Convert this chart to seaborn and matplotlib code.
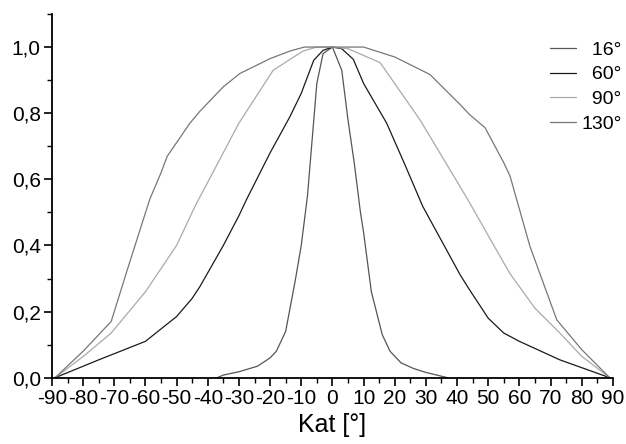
import numpy as np
import pandas as pd
import matplotlib
matplotlib.use("Agg")
import matplotlib.pyplot as plt
import seaborn as sns
from matplotlib.ticker import MultipleLocator, FuncFormatter
from matplotlib.lines import Line2D

# ---- data ----
labels = ["16°", "60°", "90°", "130°"]

ang_16 = [-37, -35, -30, -24, -20, -18, -15, -12, -10, -8, -5, -3, 0,
          3, 5, 7, 9, 10, 12.5, 16, 18.5, 22, 26, 30, 37]
val_16 = [0.0, 0.008, 0.018, 0.035, 0.06, 0.08, 0.14, 0.29, 0.40, 0.55, 0.89, 0.98, 1.0,
          0.93, 0.78, 0.65, 0.50, 0.44, 0.26, 0.13, 0.08, 0.045, 0.028, 0.016, 0.0]

ang_60 = [-89, -75, -60, -50, -45, -42.5, -35, -30, -27.5, -20, -13.6, -10, -6, -3, 0,
          3, 6.7, 10, 17.4, 23, 29, 36.6, 41, 44, 50, 55, 60, 73, 89]
val_60 = [0.0, 0.054, 0.11, 0.185, 0.24, 0.276, 0.40, 0.49, 0.54, 0.68, 0.79, 0.86, 0.96, 0.99, 1.0,
          0.995, 0.963, 0.89, 0.77, 0.65, 0.518, 0.387, 0.311, 0.266, 0.18, 0.135, 0.11, 0.054, 0.0]

ang_90 = [-89, -80, -71, -60, -50, -44, -30, -19, -9.4, -5, 0,
          5, 15.3, 28.1, 40.9, 44.1, 50, 56.9, 65, 73, 80, 89]
val_90 = [0.0, 0.064, 0.135, 0.26, 0.40, 0.52, 0.77, 0.93, 0.988, 1.0, 1.0,
          0.995, 0.953, 0.78, 0.579, 0.528, 0.43, 0.316, 0.21, 0.135, 0.065, 0.0]

ang_130 = [-89, -80, -71, -65.5, -58.6, -55, -53, -45.7, -42.5, -35, -29.7, -20, -13.6, -9, 0,
           10, 20, 31.3, 41, 44, 49, 55, 57, 63.4, 72, 80, 89]
val_130 = [0.0, 0.08, 0.17, 0.336, 0.54, 0.62, 0.67, 0.77, 0.806, 0.88, 0.92, 0.965, 0.988, 1.0, 1.0,
           1.0, 0.97, 0.917, 0.826, 0.796, 0.756, 0.65, 0.61, 0.397, 0.175, 0.085, 0.0]

x_ticks = list(range(-90, 91, 10))
y_ticks = [0.0, 0.2, 0.4, 0.6, 0.8, 1.0]

frames = []
for lab, a, v in zip(labels, [ang_16, ang_60, ang_90, ang_130],
                     [val_16, val_60, val_90, val_130]):
    frames.append(pd.DataFrame({"Kat": a, "val": v, "seria": lab}))
df = pd.concat(frames, ignore_index=True)

sns.set_theme(style="ticks")
plt.rcParams["font.family"] = ["Liberation Sans", "DejaVu Sans"]
plt.rcParams["axes.unicode_minus"] = False
plt.rcParams["text.color"] = "black"
plt.rcParams["axes.labelcolor"] = "black"
plt.rcParams["xtick.color"] = "black"
plt.rcParams["ytick.color"] = "black"

fig = plt.figure(figsize=(6.26, 4.44), dpi=100)
ax = fig.add_axes([0.083, 0.1493, 0.896, 0.8192])

palette = {"16°": "#555555", "60°": "#1a1a1a", "90°": "#aaaaaa", "130°": "#777777"}
sns.lineplot(data=df, x="Kat", y="val", hue="seria", hue_order=labels,
             palette=palette, estimator=None, sort=False,
             linewidth=0.9, ax=ax, legend=False)

ax.set_xlim(-90, 90)
ax.set_ylim(0, 1.1)
ax.set_xticks(x_ticks)
ax.set_yticks(y_ticks)
ax.xaxis.set_minor_locator(MultipleLocator(5))
ax.yaxis.set_minor_locator(MultipleLocator(0.1))
ax.yaxis.set_major_formatter(FuncFormatter(lambda v, p: f"{v:.1f}".replace(".", ",")))
ax.tick_params(axis="both", which="major", direction="out", length=6, width=1.2,
               labelsize=15, colors="black", pad=2)
ax.tick_params(axis="both", which="minor", direction="out", length=3.5, width=1.0)
sns.despine(ax=ax)
for s in ["left", "bottom"]:
    ax.spines[s].set_linewidth(1.3)
    ax.spines[s].set_color("black")
ax.set_xlabel("Kat [°]", fontsize=18, labelpad=4, color="black")
ax.set_ylabel("")

handles = [Line2D([], [], color=palette[l], lw=0.9) for l in labels]
leg_labels = ["\u2007" + l if len(l) == 3 else l for l in labels]
ax.legend(handles, leg_labels, loc="upper right", bbox_to_anchor=(1.016, 0.925),
          frameon=False, fontsize=14, handlelength=1.3, handletextpad=0.3,
          labelspacing=0.36, borderaxespad=0.0, borderpad=0.0)

fig.savefig("out.png", dpi=100)
